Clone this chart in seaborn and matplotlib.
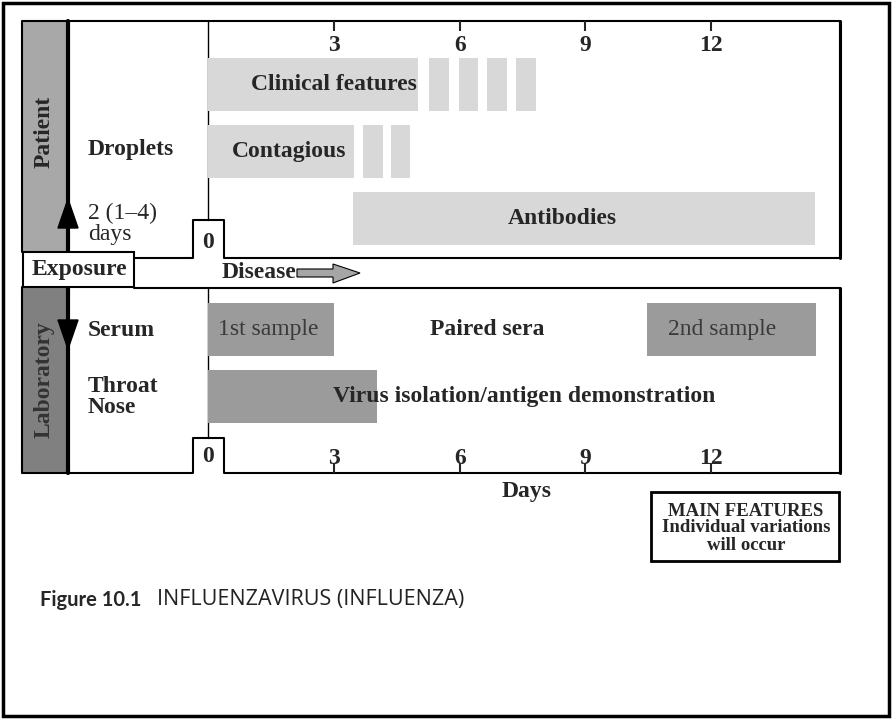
import matplotlib
matplotlib.use("Agg")
import matplotlib.pyplot as plt
import matplotlib.transforms as mtransforms
from matplotlib.patches import Rectangle, Polygon
import seaborn as sns

# bar ranges in days after onset of disease
clinical_start = [0.0, 5.26, 5.98, 6.65, 7.34]
clinical_end = [5.0, 5.74, 6.43, 7.13, 7.82]
contagious_start = [0.0, 3.69, 4.36]
contagious_end = [3.48, 4.17, 4.81]
antibodies_start = [3.45]
antibodies_end = [14.48]
serum_start = [0.0, 10.47]
serum_end = [3.0, 14.5]
virus_start = [0.0]
virus_end = [4.02]
day_ticks = [3, 6, 9, 12]
day_labels = ["3", "6", "9", "12"]

LIGHT = "#d8d8d8"
DARK = "#9b9b9b"
SERIF = "Liberation Serif"
FS = 17


def main():
    sns.set_style("white")
    plt.rcParams["font.family"] = [SERIF, "DejaVu Serif"]

    W, H = 893, 721
    fig = plt.figure(figsize=(W / 100, H / 100), dpi=100)

    # background axes in pixel units for the frame of the diagram
    bg = fig.add_axes([0, 0, 1, 1])
    bg.set_xlim(0, W)
    bg.set_ylim(H, 0)
    bg.axis("off")

    bg.add_patch(Rectangle((3, 3), 886, 713, fc="none", ec="black", lw=2.5))
    bg.add_patch(Rectangle((22, 21), 46, 231, fc="#a8a8a8", ec="none"))
    bg.add_patch(Rectangle((22, 287), 46, 186, fc="#808080", ec="none"))

    # upper panel outline with the notch around day 0
    bg.plot([22, 22, 840, 840, 224, 224, 193, 193, 134],
            [252, 21, 21, 258, 258, 220, 220, 258, 258], color="black", lw=1.5)
    bg.plot([840, 840], [21, 258], color="black", lw=2.2)
    bg.plot([208, 208], [21, 220], color="black", lw=1)
    # lower panel outline
    bg.plot([22, 22, 193, 193, 224, 224, 840, 840, 134],
            [287, 473, 473, 438, 438, 473, 473, 288, 288], color="black", lw=1.5)
    bg.plot([840, 840], [288, 473], color="black", lw=2.2)
    bg.plot([208, 208], [288, 438], color="black", lw=1)

    # thick separator with arrows
    bg.plot([68, 68], [21, 252], color="black", lw=3)
    bg.plot([68, 68], [287, 473], color="black", lw=3)
    bg.add_patch(Polygon([[68, 199], [58, 228], [78, 228]], closed=True, fc="black", ec="black"))
    bg.add_patch(Polygon([[68, 349], [58, 320], [78, 320]], closed=True, fc="black", ec="black"))

    # exposure box
    bg.add_patch(Rectangle((23, 252), 111, 35, fc="white", ec="black", lw=1.5, zorder=5))
    bg.text(79, 270, "Exposure", ha="center", va="center", fontsize=FS, fontweight="bold", zorder=6)

    # disease arrow
    bg.text(222, 273, "Disease", ha="left", va="center", fontsize=FS, fontweight="bold")
    bg.add_patch(Polygon([[297, 269], [333, 269], [333, 264], [360, 273], [333, 283],
                          [333, 277], [297, 277]], closed=True, fc="#a6a6a6", ec="black", lw=0.8))

    bg.text(44, 132, "Patient", rotation=90, ha="center", va="center", fontsize=FS, fontweight="bold")
    bg.text(44, 380, "Laboratory", rotation=90, ha="center", va="center", fontsize=FS,
            fontweight="bold", color="#333333")

    bg.text(88, 150, "Droplets", ha="left", va="center", fontsize=FS, fontweight="bold")
    bg.text(88, 224, "2 (1–4)\ndays", ha="left", va="center", fontsize=FS, linespacing=1.05)
    bg.text(88, 330, "Serum", ha="left", va="center", fontsize=FS, fontweight="bold")
    bg.text(88, 397, "Throat\nNose", ha="left", va="center", fontsize=FS, fontweight="bold",
            linespacing=1.05)

    bg.text(527, 492, "Days", ha="center", va="center", fontsize=FS, fontweight="bold")

    bg.add_patch(Rectangle((651, 492), 188, 69, fc="white", ec="black", lw=2))
    bg.text(746, 528, "MAIN FEATURES\nIndividual variations\nwill occur", ha="center", va="center",
            fontsize=13.5, fontweight="bold", linespacing=1.0)

    bg.text(40, 600, "Figure 10.1", ha="left", va="center", fontsize=14.5, fontweight="bold",
            family=["Lato", "DejaVu Sans"])
    bg.text(157, 600, "INFLUENZAVIRUS (INFLUENZA)", ha="left", va="center", fontsize=15.5,
            fontweight="normal", color="#222222", family=["Open Sans", "DejaVu Sans"])

    x0, x1, ppd = 208.3, 840, 41.9
    xmax = (x1 - x0) / ppd

    # upper panel: patient
    ax = fig.add_axes([x0 / W, 1 - 258 / H, (x1 - x0) / W, 237 / H])
    ax.set_xlim(0, xmax)
    ax.set_ylim(2.59, -0.95)
    ax.patch.set_visible(False)
    for s in ax.spines.values():
        s.set_visible(False)
    rows = [(clinical_start, clinical_end), (contagious_start, contagious_end),
            (antibodies_start, antibodies_end)]
    for i, (st, en) in enumerate(rows):
        ax.barh([i] * len(st), [e - s for s, e in zip(st, en)], left=st, height=0.78,
                color=LIGHT, edgecolor="none")
    ax.text(3.0, 0, "Clinical features", ha="center", va="center", fontsize=FS, fontweight="bold")
    ax.text(1.93, 1, "Contagious", ha="center", va="center", fontsize=FS, fontweight="bold")
    ax.text(8.46, 2, "Antibodies", ha="center", va="center", fontsize=FS, fontweight="bold")
    ax.set_yticks([])
    ax.set_xticks(day_ticks)
    ax.set_xticklabels(day_labels, fontsize=FS, fontweight="bold")
    ax.tick_params(axis="x", top=True, bottom=False, labeltop=True, labelbottom=False,
                   direction="in", length=7, width=1.5, pad=-25)
    tr = mtransforms.blended_transform_factory(ax.transData, bg.transData)
    ax.text(0, 243, "0", transform=tr, ha="center", va="center", fontsize=FS, fontweight="bold")

    # lower panel: laboratory
    lx = fig.add_axes([x0 / W, 1 - 473 / H, (x1 - x0) / W, 185 / H])
    lx.set_xlim(0, xmax)
    lx.set_ylim(2.14, -0.62)
    lx.patch.set_visible(False)
    for s in lx.spines.values():
        s.set_visible(False)
    for i, (st, en) in enumerate([(serum_start, serum_end), (virus_start, virus_end)]):
        lx.barh([i] * len(st), [e - s for s, e in zip(st, en)], left=st, height=0.79,
                color=DARK, edgecolor="none")
    lx.text(1.43, 0, "1st sample", ha="center", va="center", fontsize=FS, color="#3a3a3a")
    lx.text(12.26, 0, "2nd sample", ha="center", va="center", fontsize=FS, color="#3a3a3a")
    lx.text(6.65, 0, "Paired sera", ha="center", va="center", fontsize=FS, fontweight="bold")
    lx.text(7.53, 1, "Virus isolation/antigen demonstration", ha="center", va="center",
            fontsize=FS, fontweight="bold")
    lx.set_yticks([])
    lx.set_xticks(day_ticks)
    lx.set_xticklabels(day_labels, fontsize=FS, fontweight="bold")
    lx.tick_params(axis="x", top=False, bottom=True, labeltop=False, labelbottom=True,
                   direction="in", length=7, width=1.5, pad=-18)
    tr2 = mtransforms.blended_transform_factory(lx.transData, bg.transData)
    lx.text(0, 457, "0", transform=tr2, ha="center", va="center", fontsize=FS, fontweight="bold")

    fig.savefig("out.png", dpi=100)
    plt.close(fig)


if __name__ == "__main__":
    main()
